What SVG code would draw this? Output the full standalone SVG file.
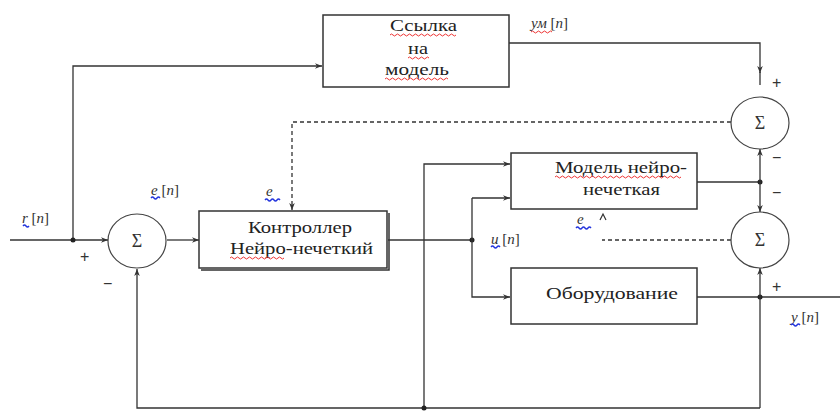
<svg xmlns="http://www.w3.org/2000/svg" width="840" height="412" viewBox="0 0 840 412">
<defs>
<style>
.ln{stroke:#333;stroke-width:1.3;fill:none}
.dash{stroke-dasharray:4 3}
.box{fill:#fff;stroke:#333;stroke-width:1.5}
.sum{fill:#fff;stroke:#444;stroke-width:1.2}
.t{font-family:"Liberation Serif","DejaVu Serif",serif;font-size:17px;fill:#222}
.sig{font-family:"Liberation Serif","DejaVu Serif",serif;font-size:18px;fill:#333;text-anchor:middle}
.lb{font-family:"Liberation Serif","DejaVu Serif",serif;font-size:15px;fill:#333;font-style:italic}
.sg{font-family:"Liberation Sans","DejaVu Sans",sans-serif;font-size:16px;fill:#333}
.wr{stroke:#e33;stroke-width:1;fill:none}
.wb{stroke:#23d;stroke-width:1.3;fill:none}
.dot{fill:#222}
</style>
<marker id="ah" viewBox="0 0 10 10" refX="10" refY="5" markerWidth="7" markerHeight="7" orient="auto" markerUnits="userSpaceOnUse">
<path d="M0,1 L10,5 L0,9 L3,5 Z" fill="#333"/>
</marker>
</defs>

<g id="connectors">
<!-- input r[n] to left sum -->
<path class="ln" d="M10,240 H108" marker-end="url(#ah)"/>
<!-- branch to reference model -->
<path class="ln" d="M73,240 V66 H322" marker-end="url(#ah)"/>
<circle class="dot" cx="73" cy="240" r="2.5"/>
<!-- sum to controller -->
<path class="ln" d="M167,240 H199" marker-end="url(#ah)"/>
<!-- reference model output to top sum -->
<path class="ln" d="M509,43 H760 V73" marker-end="url(#ah)"/>
<path class="ln" d="M760,72 V85"/>
<!-- dashed e_c from top sum to controller -->
<path class="ln dash" d="M731,122 H292 V210" marker-end="url(#ah)"/>
<!-- controller output -->
<path class="ln" d="M388,240 H472"/>
<circle class="dot" cx="472" cy="240" r="2.5"/>
<path class="ln" d="M472,198 V297 H510" marker-end="url(#ah)"/>
<path class="ln" d="M472,198 H510" marker-end="url(#ah)"/>
<!-- feedback line x=424 to model top input -->
<path class="ln" d="M424,408 V164 H510" marker-end="url(#ah)"/>
<!-- bottom feedback -->
<path class="ln" d="M760,408 H137 V269" marker-end="url(#ah)"/>
<circle class="dot" cx="424" cy="408" r="2.5"/>
<!-- model output -->
<path class="ln" d="M697,182 H760"/>
<circle class="dot" cx="760" cy="182" r="2.5"/>
<path class="ln" d="M760,182 V149" marker-end="url(#ah)"/>
<path class="ln" d="M760,182 V212" marker-end="url(#ah)"/>
<!-- plant output -->
<path class="ln" d="M697,297 H840"/>
<circle class="dot" cx="760" cy="297" r="2.5"/>
<path class="ln" d="M760,297 V268" marker-end="url(#ah)"/>
<path class="ln" d="M760,297 V408"/>
<!-- dashed e_p -->
<path class="ln dash" d="M731,240 H602"/>
<path d="M600,220 L603,214 L606,220" stroke="#333" stroke-width="1.2" fill="none"/>
</g>

<g id="sum-left">
<ellipse class="sum" cx="137" cy="241" rx="29" ry="27"/>
<text class="sig" x="137" y="247">Σ</text>
<text class="sg" x="80" y="262">+</text>
<text class="sg" x="103" y="289">−</text>
</g>

<g id="sum-top">
<ellipse class="sum" cx="760" cy="123" rx="29" ry="26"/>
<text class="sig" x="760" y="129">Σ</text>
<text class="sg" x="772" y="88">+</text>
<text class="sg" x="772" y="163">−</text>
</g>

<g id="sum-bottom">
<ellipse class="sum" cx="760" cy="240" rx="29" ry="28"/>
<text class="sig" x="760" y="246">Σ</text>
<text class="sg" x="772" y="198">−</text>
<text class="sg" x="772" y="292">+</text>
</g>

<g id="ref-model">
<rect class="box" x="323" y="15" width="186" height="72"/>
<text class="t" x="390" y="31" textLength="67" lengthAdjust="spacingAndGlyphs">Ссылка</text>
<text class="t" x="408" y="54" textLength="20" lengthAdjust="spacingAndGlyphs">на</text>
<text class="t" x="385" y="75" textLength="64" lengthAdjust="spacingAndGlyphs">модель</text>
<path class="wr" d="M390,35 q1.5,-2 3,0 t3,0 t3,0 t3,0 t3,0 t3,0 t3,0 t3,0 t3,0 t3,0 t3,0 t3,0 t3,0 t3,0 t3,0 t3,0 t3,0 t3,0 t3,0 t3,0 t3,0 t3,0"/>
<path class="wr" d="M408,58 q1.5,-2 3,0 t3,0 t3,0 t3,0 t3,0 t3,0 t3,0"/>
<path class="wr" d="M385,79 q1.5,-2 3,0 t3,0 t3,0 t3,0 t3,0 t3,0 t3,0 t3,0 t3,0 t3,0 t3,0 t3,0 t3,0 t3,0 t3,0 t3,0 t3,0 t3,0 t3,0 t3,0 t3,0"/>
</g>

<g id="controller">
<path d="M201,270 H389 V213" stroke="#333" stroke-width="1.5" fill="none"/>
<rect class="box" x="199" y="211" width="188" height="57"/>
<text class="t" x="248" y="233" textLength="104" lengthAdjust="spacingAndGlyphs">Контроллер</text>
<text class="t" x="230" y="254" textLength="143" lengthAdjust="spacingAndGlyphs">Нейро-нечеткий</text>
<path class="wr" d="M230,258 q1.5,-2 3,0 t3,0 t3,0 t3,0 t3,0 t3,0 t3,0 t3,0 t3,0 t3,0 t3,0 t3,0 t3,0 t3,0 t3,0 t3,0 t3,0 t3,0"/>
</g>

<g id="nf-model">
<rect class="box" x="511" y="153" width="186" height="56"/>
<text class="t" x="555" y="173" textLength="132" lengthAdjust="spacingAndGlyphs">Модель нейро-</text>
<text class="t" x="583" y="195" textLength="77" lengthAdjust="spacingAndGlyphs">нечеткая</text>
<path class="wr" d="M555,177 q1.5,-2 3,0 t3,0 t3,0 t3,0 t3,0 t3,0 t3,0 t3,0 t3,0 t3,0 t3,0 t3,0 t3,0 t3,0 t3,0 t3,0 t3,0 t3,0 t3,0 t3,0 t3,0 t3,0 t3,0 t3,0 t3,0 t3,0 t3,0 t3,0 t3,0 t3,0 t3,0 t3,0 t3,0 t3,0 t3,0 t3,0 t3,0 t3,0 t3,0 t3,0 t3,0 t3,0"/>
</g>

<g id="plant">
<rect class="box" x="511" y="268" width="186" height="56"/>
<text class="t" x="546" y="299" textLength="132" lengthAdjust="spacingAndGlyphs">Оборудование</text>
</g>

<g id="labels">
<text class="lb" x="531" y="28">ум <tspan font-style="normal">[</tspan>n<tspan font-style="normal">]</tspan></text>
<path class="wr" d="M531,32 q1.5,-2 3,0 t3,0 t3,0 t3,0 t3,0 t3,0 t3,0"/>
<text class="lb" x="22" y="223">r <tspan font-style="normal">[</tspan>n<tspan font-style="normal">]</tspan></text>
<path class="wb" d="M23,226 q1.5,-2 3,0 t3,0"/>
<text class="lb" x="151" y="195">e <tspan font-style="normal">[</tspan>n<tspan font-style="normal">]</tspan></text>
<path class="wb" d="M151,198 q1.5,-2 3,0 t3,0 t3,0"/>
<text class="lb" x="266" y="196">e</text>
<path class="wb" d="M265,200 q1.5,-2 3,0 t3,0 t3,0 t3,0 t3,0"/>
<text class="lb" x="577" y="224">e</text>
<path class="wb" d="M576,228 q1.5,-2 3,0 t3,0 t3,0 t3,0 t3,0"/>
<text class="lb" x="491" y="244">u <tspan font-style="normal">[</tspan>n<tspan font-style="normal">]</tspan></text>
<path class="wb" d="M491,247 q1.5,-2 3,0 t3,0 t3,0"/>
<text class="lb" x="791" y="322">y <tspan font-style="normal">[</tspan>n<tspan font-style="normal">]</tspan></text>
<path class="wb" d="M791,325 q1.5,-2 3,0 t3,0 t3,0"/>
</g>
</svg>
